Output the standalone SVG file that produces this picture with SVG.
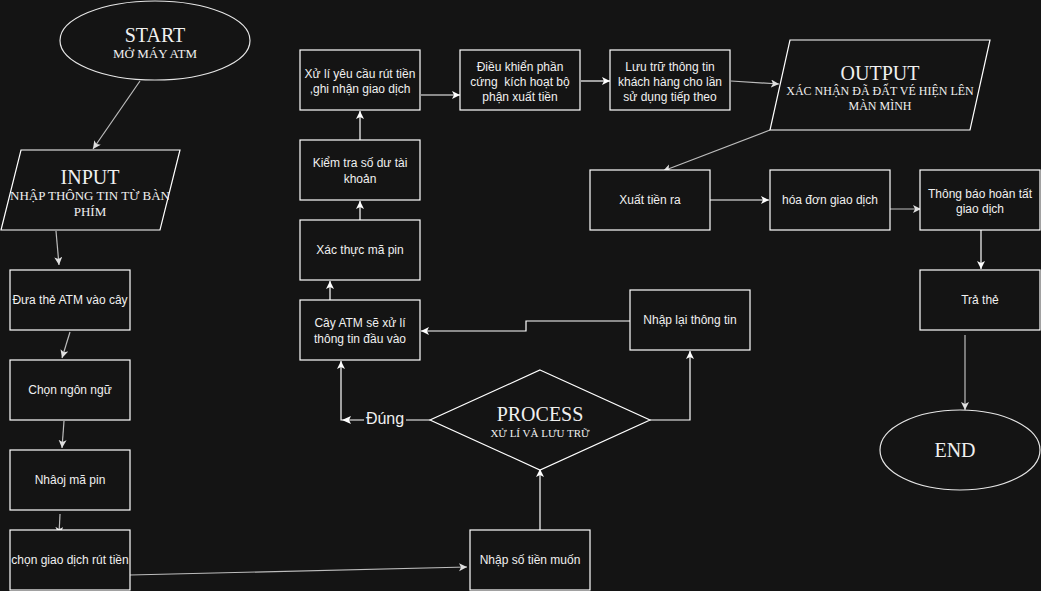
<svg xmlns="http://www.w3.org/2000/svg" width="1041" height="591" viewBox="0 0 1041 591">
<style>
.bg{fill:#141414}
.box{fill:#141414;stroke:#ffffff;stroke-width:1.2}
.term{fill:#141414;stroke:#e6e6e6;stroke-width:1.2}
.t{font-family:"Liberation Sans",Arial,sans-serif;font-size:12px;fill:#f0f0f0;text-anchor:middle}
.h{font-family:"Liberation Serif","Times New Roman",serif;font-size:20px;fill:#f0f0f0;text-anchor:middle}
.s{font-family:"Liberation Serif","Times New Roman",serif;font-size:12px;fill:#f0f0f0;text-anchor:middle}
.e{fill:none;stroke:#ffffff;stroke-width:1.2}
.g{fill:none;stroke:#bdbdbd;stroke-width:1.2}
.lbl{font-family:"Liberation Sans",Arial,sans-serif;font-size:16px;fill:#f0f0f0;text-anchor:middle}
</style>
<defs>
<marker id="aw" markerWidth="10" markerHeight="10" refX="8" refY="4" orient="auto" markerUnits="userSpaceOnUse">
<path d="M0,0 L8,4 L0,8 L2,4 z" fill="#ffffff"/>
</marker>
<marker id="ag" markerWidth="10" markerHeight="10" refX="8" refY="4" orient="auto" markerUnits="userSpaceOnUse">
<path d="M0,0 L8,4 L0,8 L2,4 z" fill="#e0e0e0"/>
</marker>
</defs>
<rect class="bg" x="0" y="0" width="1041" height="591"/>

<g id="connectors">
<path class="g" d="M140,81 L93,149" marker-end="url(#ag)"/>
<path class="g" d="M56,231 L59,265" marker-end="url(#ag)"/>
<path class="g" d="M70,332 L62,358" marker-end="url(#ag)"/>
<path class="g" d="M64,421 L62,448" marker-end="url(#ag)"/>
<path class="g" d="M60,514 L59,535" marker-end="url(#ag)"/>
<path class="g" d="M130,575 L467,567" marker-end="url(#ag)"/>
<path class="e" d="M540,530 L540,469" marker-end="url(#aw)"/>
<path class="e" d="M650,420 L690,420 L690,351" marker-end="url(#aw)"/>
<path class="e" d="M630,321 L526,321 L526,331 L421,331" marker-end="url(#aw)"/>
<path class="e" d="M430,420 L341,420 L341,361" marker-end="url(#aw)"/>
<polygon points="342,420 351,416 349,420 351,424" fill="#ffffff"/>
<path class="e" d="M330,300 L330,281" marker-end="url(#aw)"/>
<path class="e" d="M360,220 L360,201" marker-end="url(#aw)"/>
<path class="e" d="M360,140 L360,111" marker-end="url(#aw)"/>
<path class="e" d="M421,95 L460,95" marker-end="url(#aw)"/>
<path class="e" d="M581,81 L610,81" marker-end="url(#aw)"/>
<path class="g" d="M731,81 L779,84" marker-end="url(#ag)"/>
<path class="g" d="M770,130 L663,171" marker-end="url(#ag)"/>
<path class="e" d="M710,200 L769,200" marker-end="url(#aw)"/>
<path class="g" d="M888,209 L921,209" marker-end="url(#ag)"/>
<path class="e" d="M981,230 L981,269" marker-end="url(#aw)"/>
<path class="g" d="M965,335 L965,410" marker-end="url(#ag)"/>
<rect x="364" y="408" width="42" height="22" fill="#141414"/>
<text class="lbl" x="385" y="424">Đúng</text>
</g>

<g id="start">
<ellipse class="term" cx="155" cy="40.5" rx="95" ry="39.5"/>
<text class="h" x="155" y="42">START</text>
<text class="s" x="155" y="58" style="font-size:13px">MỞ MÁY ATM</text>
</g>

<g id="input">
<polygon class="box" points="21,150 180,150 160,230 1,230"/>
<text class="h" x="90" y="184">INPUT</text>
<text class="s" x="90" y="200" style="font-size:13px">NHẬP THÔNG TIN TỪ BÀN</text>
<text class="s" x="90" y="216" style="font-size:13px">PHÍM</text>
</g>

<g id="dua-the">
<rect class="box" x="10" y="270" width="120" height="60"/>
<text class="t" x="70" y="304">Đưa thẻ ATM vào cây</text>
</g>

<g id="chon-ngon-ngu">
<rect class="box" x="10" y="360" width="120" height="60"/>
<text class="t" x="70" y="394">Chọn ngôn ngữ</text>
</g>

<g id="nhap-pin">
<rect class="box" x="10" y="450" width="120" height="60"/>
<text class="t" x="70" y="484">Nhâoj mã pin</text>
</g>

<g id="chon-giao-dich">
<rect class="box" x="10" y="530" width="120" height="60"/>
<text class="t" x="70" y="564">chọn giao dịch rút tiền</text>
</g>

<g id="nhap-so-tien">
<rect class="box" x="470" y="530" width="120" height="60"/>
<text class="t" x="530" y="564">Nhập số tiền muốn</text>
</g>

<g id="process">
<polygon class="box" points="540,370 650,420 540,470 430,420"/>
<text class="h" x="540" y="421">PROCESS</text>
<text class="s" x="540" y="437" style="font-size:11px">XỬ LÍ VÀ LƯU TRỮ</text>
</g>

<g id="nhap-lai">
<rect class="box" x="630" y="290" width="120" height="60"/>
<text class="t" x="690" y="324">Nhập lại thông tin</text>
</g>

<g id="cay-atm">
<rect class="box" x="300" y="300" width="120" height="60"/>
<text class="t" x="360" y="327">Cây ATM sẽ xử lí</text>
<text class="t" x="360" y="343">thông tin đầu vào</text>
</g>

<g id="xac-thuc">
<rect class="box" x="300" y="220" width="120" height="60"/>
<text class="t" x="360" y="254">Xác thực mã pin</text>
</g>

<g id="kiem-tra">
<rect class="box" x="300" y="140" width="120" height="60"/>
<text class="t" x="360" y="167">Kiểm tra số dư tài</text>
<text class="t" x="360" y="183">khoản</text>
</g>

<g id="xu-li">
<rect class="box" x="300" y="50" width="120" height="60"/>
<text class="t" x="360" y="78">Xử lí yêu cầu rút tiền</text>
<text class="t" x="360" y="93">,ghi nhận giao dịch</text>
</g>

<g id="dieu-khien">
<rect class="box" x="460" y="50" width="120" height="60"/>
<text class="t" x="520" y="71">Điều khiển phần</text>
<text class="t" x="520" y="86" xml:space="preserve">cứng  kích hoạt bộ</text>
<text class="t" x="520" y="101">phận xuất tiền</text>
</g>

<g id="luu-tru">
<rect class="box" x="610" y="50" width="120" height="60"/>
<text class="t" x="670" y="71">Lưu trữ thông tin</text>
<text class="t" x="670" y="86">khách hàng cho lần</text>
<text class="t" x="670" y="101">sử dụng tiếp theo</text>
</g>

<g id="output">
<polygon class="box" points="790,40 990,40 970,130 770,130"/>
<text class="h" x="880" y="80">OUTPUT</text>
<text class="s" x="880" y="95">XÁC NHẬN ĐÃ ĐẤT VÉ HIỆN LÊN</text>
<text class="s" x="880" y="110">MÀN MÌNH</text>
</g>

<g id="xuat-tien">
<rect class="box" x="590" y="170" width="120" height="60"/>
<text class="t" x="650" y="204">Xuất tiền ra</text>
</g>

<g id="hoa-don">
<rect class="box" x="770" y="170" width="120" height="60"/>
<text class="t" x="830" y="204">hóa đơn giao dịch</text>
</g>

<g id="thong-bao">
<rect class="box" x="920" y="170" width="120" height="60"/>
<text class="t" x="980" y="198">Thông báo hoàn tất</text>
<text class="t" x="980" y="213">giao dịch</text>
</g>

<g id="tra-the">
<rect class="box" x="920" y="270" width="120" height="60"/>
<text class="t" x="980" y="304">Trả thẻ</text>
</g>

<g id="end">
<ellipse class="term" cx="960" cy="450" rx="80" ry="40"/>
<text class="h" x="955" y="457">END</text>
</g>
</svg>
